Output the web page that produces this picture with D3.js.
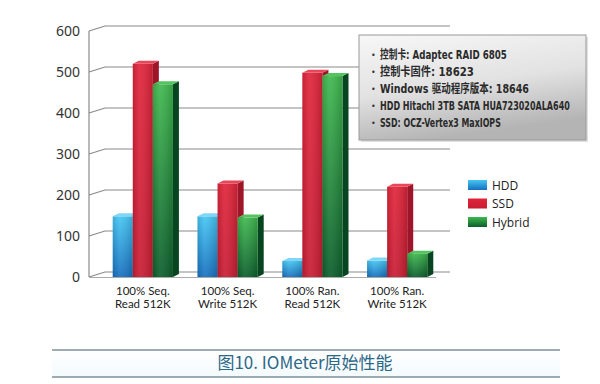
<!DOCTYPE html>
<html>
<head>
<meta charset="utf-8">
<script src="https://d3js.org/d3.v7.min.js"></script>
<style>
  body { margin: 0; background: #fff; }
  svg { display: block; }
</style>
</head>
<body>
<div id="chart"></div>
<script>
var categories = [["100% Seq.", "Read 512K"], ["100% Seq.", "Write 512K"], ["100% Ran.", "Read 512K"], ["100% Ran.", "Write 512K"]];
var series = ["HDD", "SSD", "Hybrid"];
var hdd = [148, 148, 39, 40];
var ssd = [520, 228, 498, 220];
var hybrid = [470, 145, 490, 57];
var yTicks = [0, 100, 200, 300, 400, 500, 600];
var notes = [
  "控制卡: Adaptec RAID 6805",
  "控制卡固件: 18623",
  "Windows 驱动程序版本: 18646",
  "HDD Hitachi 3TB SATA HUA723020ALA640",
  "SSD: OCZ-Vertex3 MaxIOPS"
];
var noteWidths = [127, 94, 149, 190, 121];
var title = "图10. IOMeter原始性能";

var values = [hdd, ssd, hybrid];

var W = 600, H = 384;
var svg = d3.select("#chart").append("svg").attr("width", W).attr("height", H);
var defs = svg.append("defs");

// colours per series: light top, dark bottom, side face, cap
var palette = {
  HDD: { top: "#45c6f4", bot: "#1670bf", side: "#0f5a9e", cap: "#7fd6f7" },
  SSD: { top: "#e0243a", bot: "#c81c33", side: "#9e1428", cap: "#e8475a" },
  Hybrid: { top: "#3fb84e", bot: "#0b5e2c", side: "#074520", cap: "#52c460" }
};
series.forEach(function (s) {
  var g = defs.append("linearGradient").attr("id", "g-" + s)
    .attr("x1", 0).attr("y1", 0).attr("x2", 0).attr("y2", 1);
  g.append("stop").attr("offset", "0%").attr("stop-color", palette[s].top);
  g.append("stop").attr("offset", "100%").attr("stop-color", palette[s].bot);
  var h = defs.append("linearGradient").attr("id", "h-" + s)
    .attr("x1", 0).attr("y1", 0).attr("x2", 1).attr("y2", 0);
  h.append("stop").attr("offset", "0%").attr("stop-color", "#000").attr("stop-opacity", 0.12);
  h.append("stop").attr("offset", "35%").attr("stop-color", "#fff").attr("stop-opacity", 0.08);
  h.append("stop").attr("offset", "100%").attr("stop-color", "#000").attr("stop-opacity", 0.15);
});
var boxG = defs.append("linearGradient").attr("id", "boxg")
  .attr("x1", 0).attr("y1", 0).attr("x2", 0.3).attr("y2", 1);
boxG.append("stop").attr("offset", "0%").attr("stop-color", "#f7f7f7");
boxG.append("stop").attr("offset", "55%").attr("stop-color", "#e2e2e2");
boxG.append("stop").attr("offset", "100%").attr("stop-color", "#b4b4b4");
var titleG = defs.append("linearGradient").attr("id", "titleg")
  .attr("x1", 0).attr("y1", 0).attr("x2", 0).attr("y2", 1);
titleG.append("stop").attr("offset", "0%").attr("stop-color", "#ffffff");
titleG.append("stop").attr("offset", "100%").attr("stop-color", "#f3fafd");

var y = d3.scaleLinear().domain([0, 600]).range([277, 31]);
var x0 = d3.scaleBand().domain(d3.range(categories.length)).range([100, 440])
  .paddingInner(0.29).paddingOuter(0.15);
var x1 = d3.scaleBand().domain(series).range([0, x0.bandwidth()]);

var axisX = 89, depthX = 16, depthY = -5, backRight = 450;

// gridlines with perspective
var grid = svg.append("g").attr("stroke", "#8a8a8a").attr("stroke-width", 1.2).attr("fill", "none");
yTicks.forEach(function (t) {
  var yy = y(t);
  grid.append("path").attr("d", "M" + axisX + "," + yy + "L" + (axisX + depthX) + "," + (yy + depthY) + "L" + backRight + "," + (yy + depthY));
});
grid.append("line").attr("x1", axisX).attr("x2", axisX).attr("y1", y(600)).attr("y2", y(0));
grid.append("line").attr("x1", axisX).attr("x2", 436).attr("y1", y(0) + 0.5).attr("y2", y(0) + 0.5)
  .attr("stroke", "#aaa");

// y tick labels
svg.append("g").selectAll("text").data(yTicks).enter().append("text")
  .attr("x", 80).attr("y", function (d) { return y(d) + 5; })
  .attr("text-anchor", "end")
  .style("font-family", "'Noto Sans', sans-serif").style("font-size", "14px").style("fill", "#333")
  .text(function (d) { return d; });

// bars (side, front, cap)
var bd = 6, bdy = -3;
var groups = svg.append("g").selectAll("g").data(categories).enter().append("g")
  .attr("transform", function (d, i) { return "translate(" + x0(i) + ",0)"; });
groups.each(function (c, i) {
  var g = d3.select(this);
  series.forEach(function (s, k) {
    var v = values[k][i];
    var bx = x1(s), bw = x1.bandwidth(), top = y(v), bot = y(0);
    g.append("path")
      .attr("d", "M" + (bx + bw) + "," + top + "L" + (bx + bw + bd) + "," + (top + bdy) +
        "L" + (bx + bw + bd) + "," + (bot + bdy) + "L" + (bx + bw) + "," + bot + "Z")
      .attr("fill", palette[s].side);
    g.append("rect").attr("x", bx).attr("y", top).attr("width", bw).attr("height", bot - top)
      .attr("fill", "url(#g-" + s + ")");
    g.append("rect").attr("x", bx).attr("y", top).attr("width", bw).attr("height", bot - top)
      .attr("fill", "url(#h-" + s + ")");
    g.append("path")
      .attr("d", "M" + bx + "," + top + "L" + (bx + bd) + "," + (top + bdy) +
        "L" + (bx + bw + bd) + "," + (top + bdy) + "L" + (bx + bw) + "," + top + "Z")
      .attr("fill", palette[s].cap);
  });
  c.forEach(function (line, j) {
    g.append("text").attr("text-anchor", "middle")
      .attr("x", x0.bandwidth() / 2).attr("y", 295 + j * 12.5)
      .style("font-family", "Lato, sans-serif").style("font-size", "11.5px").style("fill", "#222")
      .text(line);
  });
});

// legend
var legend = svg.append("g").selectAll("g").data(series).enter().append("g")
  .attr("transform", function (d, i) { return "translate(468," + (180 + i * 18.5) + ")"; });
legend.append("rect").attr("width", 19).attr("height", 10).attr("fill", function (d) { return "url(#g-" + d + ")"; });
legend.append("text").attr("x", 24).attr("y", 9.5)
  .style("font-family", "'Open Sans', sans-serif").style("font-size", "12px").style("fill", "#222")
  .text(function (d) { return d; });

// info box
svg.append("rect").attr("x", 361).attr("y", 37).attr("width", 227).attr("height", 105)
  .attr("fill", "#000").attr("opacity", 0.12);
svg.append("rect").attr("x", 359).attr("y", 35).attr("width", 227).attr("height", 105)
  .attr("fill", "url(#boxg)").attr("stroke", "#9a9a9a").attr("stroke-width", 1);
var info = svg.append("g").selectAll("g").data(notes).enter().append("g")
  .attr("transform", function (d, i) { return "translate(371," + (59 + i * 17) + ")"; });
info.append("text").attr("x", 0).attr("y", -1)
  .style("font-family", "'DejaVu Sans', sans-serif").style("font-size", "8px").style("fill", "#333")
  .text("•");
// condensed look: measure each line, then squeeze it horizontally to the width seen in the picture
info.append("g").attr("class", "note").append("text").attr("x", 0).attr("y", 0)
  .style("font-family", "'DejaVu Sans', 'Noto Sans CJK SC', sans-serif")
  .style("font-size", "12px").style("font-weight", "bold").style("fill", "#2a2a2a")
  .text(function (d) { return d; });
info.selectAll("g.note").each(function (d) {
  var i = notes.indexOf(d);
  var len = d3.select(this).select("text").node().getComputedTextLength();
  d3.select(this).attr("transform", "translate(9,0) scale(" + (noteWidths[i] / len) + ",1)");
});

// title band
svg.append("rect").attr("x", 52).attr("y", 350).attr("width", 508).attr("height", 27).attr("fill", "url(#titleg)");
svg.append("line").attr("x1", 52).attr("x2", 560).attr("y1", 350).attr("y2", 350)
  .attr("stroke", "#3f5d68").attr("stroke-width", 1.2);
svg.append("line").attr("x1", 52).attr("x2", 560).attr("y1", 377).attr("y2", 377)
  .attr("stroke", "#3f5d68").attr("stroke-width", 1.2);
svg.append("text").attr("x", 305).attr("y", 369).attr("text-anchor", "middle")
  .style("font-family", "'Noto Sans CJK SC', sans-serif").style("font-size", "17px").style("fill", "#2d6786")
  .text(title);
</script>
</body>
</html>
